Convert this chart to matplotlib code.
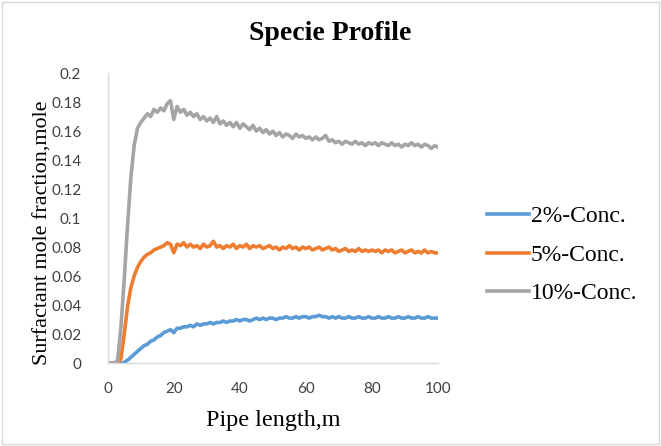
import matplotlib
matplotlib.use('Agg')
import matplotlib.pyplot as plt
from matplotlib.patches import Rectangle

# Pipe length positions (m)
pipe_length = list(range(0, 101))

# Surfactant mole fraction, one value per metre
conc_2 = [0, 0, 0, 0, 0, 0.0005, 0.002, 0.004, 0.006, 0.008,
          0.010, 0.012, 0.013, 0.015, 0.016, 0.018, 0.019, 0.021, 0.022, 0.023,
          0.021, 0.024, 0.024, 0.025, 0.025, 0.026, 0.025, 0.027, 0.026, 0.027,
          0.027, 0.028, 0.027, 0.028, 0.028, 0.029, 0.028, 0.029, 0.029, 0.030,
          0.029, 0.030, 0.030, 0.029, 0.030, 0.031, 0.030, 0.031, 0.030, 0.031,
          0.031, 0.030, 0.031, 0.031, 0.032, 0.031, 0.031, 0.032, 0.031, 0.032,
          0.032, 0.031, 0.032, 0.032, 0.033, 0.032, 0.032, 0.031, 0.032, 0.031,
          0.032, 0.031, 0.031, 0.032, 0.031, 0.031, 0.032, 0.031, 0.031, 0.032,
          0.031, 0.031, 0.032, 0.031, 0.031, 0.032, 0.031, 0.031, 0.032, 0.031,
          0.031, 0.032, 0.031, 0.031, 0.032, 0.031, 0.031, 0.032, 0.031, 0.031,
          0.031]

conc_5 = [0, 0, 0, 0, 0.003, 0.020, 0.039, 0.052, 0.060, 0.066,
          0.070, 0.073, 0.075, 0.076, 0.078, 0.079, 0.080, 0.081, 0.083, 0.082,
          0.076, 0.082, 0.081, 0.083, 0.080, 0.082, 0.080, 0.081, 0.079, 0.082,
          0.080, 0.081, 0.084, 0.080, 0.081, 0.079, 0.081, 0.080, 0.082, 0.079,
          0.081, 0.080, 0.082, 0.079, 0.081, 0.080, 0.081, 0.079, 0.080, 0.081,
          0.079, 0.080, 0.078, 0.080, 0.079, 0.081, 0.079, 0.080, 0.078, 0.080,
          0.079, 0.080, 0.078, 0.079, 0.080, 0.078, 0.079, 0.080, 0.078, 0.079,
          0.077, 0.078, 0.079, 0.077, 0.078, 0.077, 0.079, 0.077, 0.078, 0.077,
          0.078, 0.077, 0.078, 0.076, 0.078, 0.077, 0.078, 0.076, 0.077, 0.078,
          0.076, 0.077, 0.078, 0.076, 0.077, 0.076, 0.078, 0.076, 0.077, 0.076,
          0.076]

conc_10 = [0, 0, 0, 0.002, 0.025, 0.058, 0.095, 0.128, 0.150, 0.162,
           0.166, 0.169, 0.172, 0.170, 0.175, 0.173, 0.176, 0.174, 0.179, 0.181,
           0.168, 0.177, 0.173, 0.175, 0.171, 0.173, 0.170, 0.172, 0.168, 0.170,
           0.167, 0.169, 0.166, 0.170, 0.165, 0.167, 0.164, 0.166, 0.163, 0.166,
           0.162, 0.165, 0.163, 0.161, 0.164, 0.160, 0.162, 0.159, 0.161, 0.158,
           0.160, 0.157, 0.159, 0.156, 0.158, 0.157, 0.155, 0.158, 0.156, 0.157,
           0.155, 0.156, 0.154, 0.156, 0.154, 0.155, 0.157, 0.153, 0.154, 0.152,
           0.153, 0.151, 0.153, 0.152, 0.151, 0.153, 0.151, 0.152, 0.150, 0.152,
           0.151, 0.152, 0.150, 0.152, 0.151, 0.150, 0.152, 0.150, 0.151, 0.149,
           0.151, 0.150, 0.152, 0.150, 0.151, 0.149, 0.151, 0.150, 0.148, 0.150,
           0.149]

series_labels = ['2%-Conc.', '5%-Conc.', '10%-Conc.']
series_colors = ['#5B9BD5', '#ED7D31', '#A5A5A5']

x_ticks = [0, 20, 40, 60, 80, 100]
y_ticks = [0, 0.02, 0.04, 0.06, 0.08, 0.1, 0.12, 0.14, 0.16, 0.18, 0.2]

serif = ['Liberation Serif', 'DejaVu Serif']
sans = ['Lato', 'DejaVu Sans']

fig = plt.figure(figsize=(6.61, 4.46), dpi=100)
ax = fig.add_axes([0.163, 0.186, 0.4995, 0.65])

for vals, lab, col in zip([conc_2, conc_5, conc_10], series_labels, series_colors):
    ax.plot(pipe_length, vals, color=col, lw=2.6, label=lab, solid_joinstyle='round')

ax.set_xlim(0, 100)
ax.set_ylim(0, 0.2)
ax.set_xticks(x_ticks)
ax.set_yticks(y_ticks)
ax.set_xticklabels([str(t) for t in x_ticks], family=sans, fontsize=11, color='#404040')
ax.set_yticklabels([f'{t:g}' for t in y_ticks], family=sans, fontsize=11, color='#404040')
ax.tick_params(axis='x', length=0, pad=14)
ax.tick_params(axis='y', length=0, pad=19)

for side in ['top', 'right']:
    ax.spines[side].set_visible(False)
for side in ['left', 'bottom']:
    ax.spines[side].set_color('#D9D9D9')
    ax.spines[side].set_linewidth(1.0)

ax.set_xlabel('Pipe length,m', family=serif, fontsize=17.4, va='center')
ax.xaxis.set_label_coords(0.5, -0.197)
ax.set_ylabel('Surfactant mole fraction,mole', family=serif, fontsize=15.9, va='center')
ax.yaxis.set_label_coords(-0.195, 0.45)
fig.text(0.5, 0.926, 'Specie Profile', family=serif, fontsize=20, fontweight='bold',
         ha='center', va='center')

ax.legend(loc='center left', bbox_to_anchor=(1.121, 0.372), frameon=False,
          prop={'family': serif, 'size': 17}, handlelength=1.75, handletextpad=0.1,
          labelspacing=0.72, borderaxespad=0)

# light chart-area border like the Excel export
fig.patches.append(Rectangle((0.003, 0.004), 0.994, 0.992, transform=fig.transFigure,
                             fill=False, edgecolor='#D9D9D9', lw=1.0))

fig.savefig('out.png', dpi=100)
